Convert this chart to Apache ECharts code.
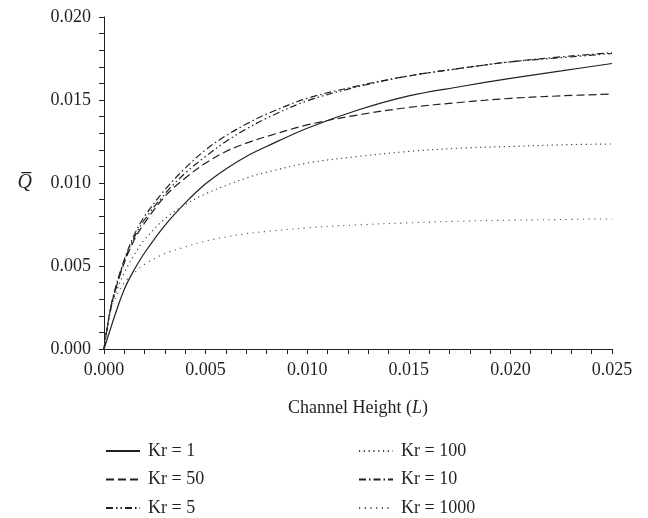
<!DOCTYPE html>
<html>
<head>
<meta charset="utf-8">
<script src="https://cdn.jsdelivr.net/npm/echarts@6/dist/echarts.min.js"></script>
<style>
html,body{margin:0;padding:0;background:#fff;}
#chart{width:648px;height:518px;}
</style>
</head>
<body>
<div id="chart"></div>
<script>
var xs = [0, 0.00025, 0.0005, 0.001, 0.0015, 0.002, 0.003, 0.004, 0.005, 0.006, 0.007, 0.008, 0.010, 0.0125, 0.015, 0.0175, 0.020, 0.0225, 0.025];
var kr1    = [0, 0.00095, 0.0019, 0.0036, 0.0048, 0.0058, 0.00745, 0.0088, 0.00995, 0.01085, 0.0116, 0.0122, 0.0133, 0.0144, 0.01525, 0.0158, 0.0163, 0.01675, 0.0172];
var kr50   = [0, 0.00195, 0.0033, 0.0052, 0.0066, 0.0076, 0.0092, 0.0103, 0.0112, 0.0119, 0.0124, 0.0128, 0.0135, 0.0141, 0.01455, 0.01485, 0.0151, 0.01525, 0.01536];
var kr5    = [0, 0.00195, 0.0033, 0.0053, 0.00675, 0.0078, 0.00935, 0.0106, 0.0116, 0.0125, 0.01325, 0.0139, 0.01495, 0.0158, 0.01645, 0.0169, 0.0173, 0.01755, 0.0178];
var kr100  = [0, 0.0019, 0.0031, 0.0046, 0.0057, 0.0066, 0.00785, 0.0087, 0.00935, 0.00985, 0.0103, 0.01065, 0.0112, 0.0116, 0.0119, 0.0121, 0.0122, 0.0123, 0.01235];
var kr10   = [0, 0.002, 0.0034, 0.0054, 0.0069, 0.008, 0.0096, 0.0109, 0.012, 0.01285, 0.01355, 0.01415, 0.0151, 0.01585, 0.01645, 0.0169, 0.0173, 0.0176, 0.01785];
var kr1000 = [0, 0.0019, 0.0029, 0.004, 0.0046, 0.0051, 0.00575, 0.00615, 0.0065, 0.00675, 0.00695, 0.00708, 0.0073, 0.00748, 0.0076, 0.0077, 0.00776, 0.0078, 0.00784];
var names = ['Kr = 1', 'Kr = 100', 'Kr = 50', 'Kr = 10', 'Kr = 5', 'Kr = 1000'];
var xTicks = [0, 0.005, 0.010, 0.015, 0.020, 0.025];
var yTicks = [0, 0.005, 0.010, 0.015, 0.020];

var FONT = 'Liberation Serif';
var INK = '#231f20';

function pairs(arr){ return xs.map(function(x,i){ return [x, arr[i]]; }); }
function mk(name, arr, type, color, width){
  return {
    name: name, type: 'line', data: pairs(arr), symbol: 'none', smooth: 0.35,
    lineStyle: {color: color, width: width, type: type}, itemStyle: {color: color},
    emphasis: {disabled: true}, animation: false
  };
}

var chart = echarts.init(document.getElementById('chart'), null, {renderer: 'canvas'});
var legendBase = {
  orient: 'vertical', top: 441, height: 77, padding: 0, itemWidth: 34, itemHeight: 14, itemGap: 8.5,
  selectedMode: false,
  itemStyle: {opacity: 0},
  textStyle: {fontFamily: FONT, fontSize: 18, color: INK, lineHeight: 20, padding: [0, 0, 0, 3]}
};
chart.setOption({
  animation: false,
  backgroundColor: '#fff',
  grid: {left: 104, right: 36, top: 17, bottom: 169, containLabel: false},
  legend: [
    Object.assign({}, legendBase, {left: 105, data: [names[0], names[2], names[4]]}),
    Object.assign({}, legendBase, {left: 358, data: [names[1], names[3], names[5]]})
  ],
  xAxis: {
    type: 'value', min: xTicks[0], max: xTicks[xTicks.length-1], interval: 0.005,
    name: '{n|Channel Height (}{i|L}{n|)}',
    nameLocation: 'middle', nameGap: 50,
    nameTextStyle: {rich: {n: {fontFamily: FONT, fontSize: 18, color: INK}, i: {fontFamily: FONT, fontSize: 18, fontStyle: 'italic', color: INK}}},
    axisLine: {show: true, lineStyle: {color: INK, width: 1}},
    axisTick: {show: true, length: 5, lineStyle: {color: INK}},
    minorTick: {show: true, splitNumber: 5, length: 5, lineStyle: {color: INK}},
    splitLine: {show: false},
    axisLabel: {fontFamily: FONT, fontSize: 18, color: INK, margin: 12, formatter: function(v){ return v.toFixed(3); }}
  },
  yAxis: {
    type: 'value', min: yTicks[0], max: yTicks[yTicks.length-1], interval: 0.005,
    name: 'Q\u0305', nameLocation: 'middle', nameRotate: 0, nameGap: 72,
    nameTextStyle: {fontFamily: FONT, fontSize: 20, fontStyle: 'italic', color: INK, padding: [36, 0, 0, 0]},
    axisLine: {show: true, lineStyle: {color: INK, width: 1}},
    axisTick: {show: true, length: 5, lineStyle: {color: INK}},
    minorTick: {show: true, splitNumber: 5, length: 5, lineStyle: {color: INK}},
    splitLine: {show: false},
    axisLabel: {fontFamily: FONT, fontSize: 18, color: INK, margin: 13, formatter: function(v){ return v.toFixed(3); }}
  },
  series: [
    mk(names[0], kr1, 'solid', INK, 1.2),
    mk(names[1], kr100, [1.2, 3.6], '#444', 1.2),
    mk(names[2], kr50, [8, 4], INK, 1.2),
    mk(names[3], kr10, [7, 3, 1.5, 3], INK, 1.2),
    mk(names[4], kr5, [7, 3, 1.5, 3, 1.5, 3], INK, 1.2),
    mk(names[5], kr1000, [1.2, 4.5], '#555', 1.1)
  ]
});
</script>
</body>
</html>
